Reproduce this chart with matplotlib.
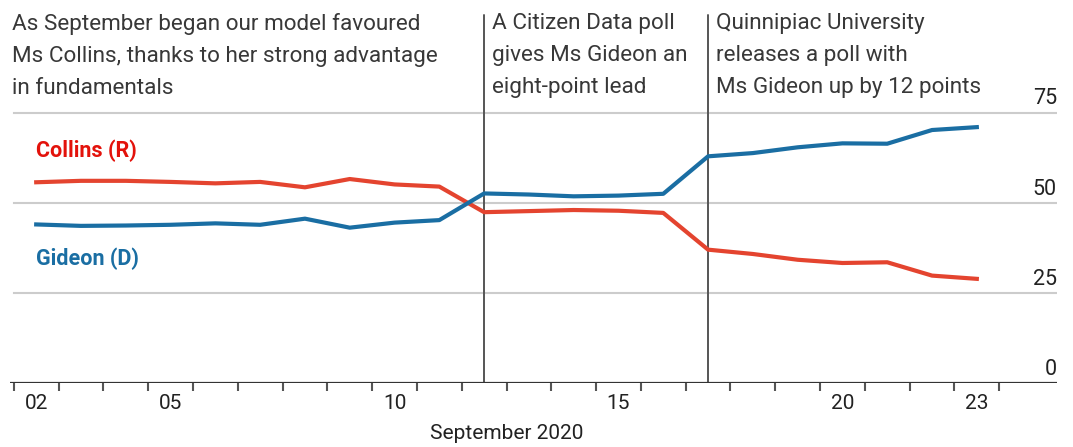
import matplotlib.pyplot as plt
import numpy as np

plt.rcParams['font.family'] = ['Roboto', 'DejaVu Sans']

# Daily model probabilities, September 2nd to 23rd 2020
days = list(range(2, 24))
collins = [55.7, 56.1, 56.1, 55.8, 55.4, 55.8, 54.3, 56.6, 55.1, 54.5, 47.4,
           47.7, 48.0, 47.8, 47.2, 37.0, 35.8, 34.2, 33.3, 33.5, 29.8, 28.9]
gideon = [44.0, 43.6, 43.7, 43.9, 44.3, 43.9, 45.6, 43.1, 44.5, 45.2, 52.6,
          52.3, 51.8, 52.0, 52.5, 62.9, 63.8, 65.4, 66.5, 66.4, 70.2, 71.0]

tick_days = [2, 5, 10, 15, 20, 23]
tick_labels = ['02', '05', '10', '15', '20', '23']
y_ticks = [0, 25, 50, 75]

events = [12, 17]
event_text = ['A Citizen Data poll\ngives Ms Gideon an\neight-point lead',
              'Quinnipiac University\nreleases a poll with\nMs Gideon up by 12 points']
intro_text = ('As September began our model favoured\n'
              'Ms Collins, thanks to her strong advantage\nin fundamentals')

red = '#e4442f'
blue = '#1a6ea3'
text_col = '#383838'

fig = plt.figure(figsize=(10.73, 4.47), dpi=100)
ax = fig.add_axes([10 / 1073, 64 / 447, 1047 / 1073, 382 / 447])
x0, x1 = 1.415, 24.79
ax.set_xlim(x0, x1)
ax.set_ylim(0, 106)
for s in ax.spines.values():
    s.set_visible(False)

# gridlines and right-hand value labels
for v in y_ticks[1:]:
    ax.axhline(v, xmin=0.004, xmax=1.0, color='#cccccc', lw=1.5, zorder=1)
for v in y_ticks:
    ax.text(x1, v + 0.9, str(v), ha='right', va='bottom', fontsize=15.5,
            color='#222222')

# event markers
for d, t in zip(events, event_text):
    ax.plot([d, d], [0, 102.2], color='#555555', lw=1.4, zorder=2,
            solid_capstyle='round')
    ax.text(d + 0.17, 102.6, t, ha='left', va='top', fontsize=16.2,
            color=text_col, linespacing=1.68)
ax.text(x0 + 0.05, 102.6, intro_text, ha='left', va='top', fontsize=16.2,
        color=text_col, linespacing=1.68)

ax.plot(days, collins, color=red, lw=3, zorder=3)
ax.plot(days, gideon, color=blue, lw=3, zorder=3)
ax.text(2, 64.5, 'Collins (R)', color='#e3120b', fontsize=15.5,
        fontweight='bold', ha='left', va='center')
ax.text(2, 34.5, 'Gideon (D)', color=blue, fontsize=15.5,
        fontweight='bold', ha='left', va='center')

# baseline and day ticks
ax.axhline(0, color='#333333', lw=1.6, zorder=4)
ax.set_xticks(tick_days)
ax.set_xticklabels(tick_labels, fontsize=15, color='#222222')
ax.set_xticks(np.arange(1.5, 24, 1), minor=True)
ax.tick_params(axis='x', which='major', length=0, pad=8)
ax.tick_params(axis='x', which='minor', length=6, width=1.5, color='#555555')
ax.set_yticks([])
ax.text(12.5, -11.5, 'September 2020', ha='center', va='top', fontsize=15,
        color='#222222')

fig.savefig('out.png', dpi=100, facecolor='white')
